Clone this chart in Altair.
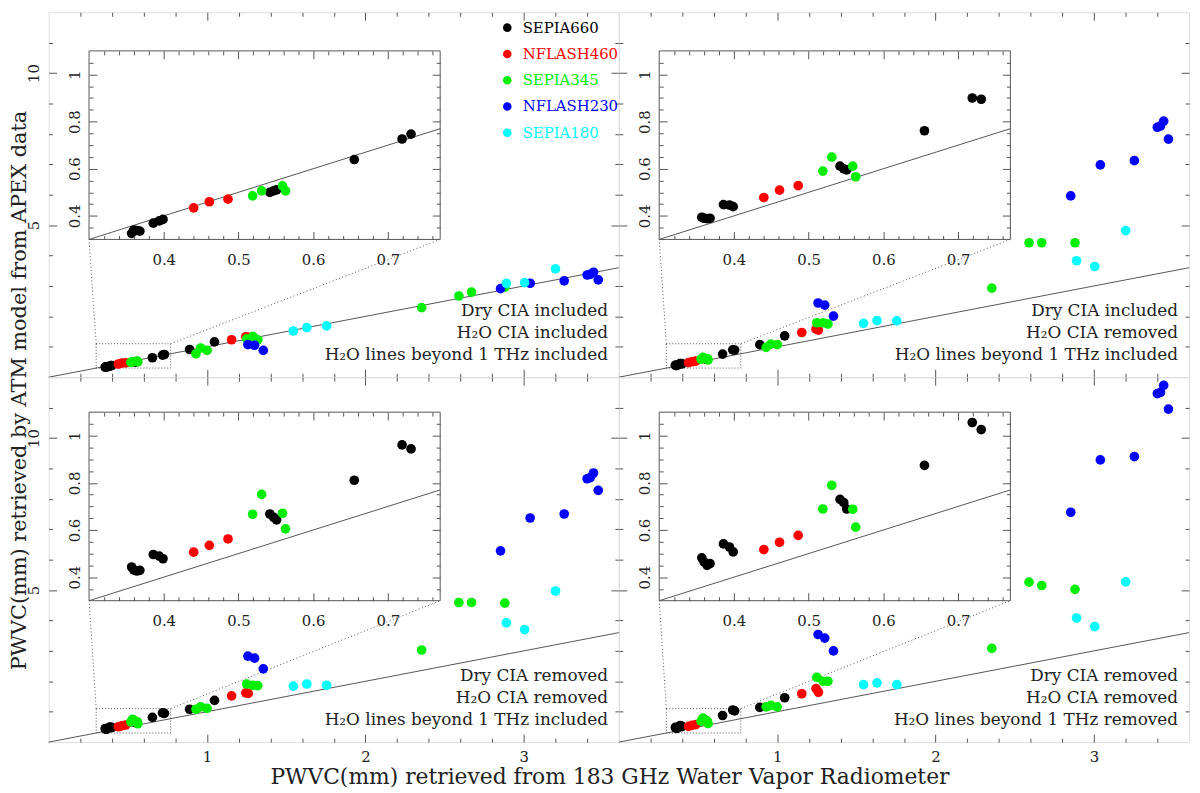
import altair as alt
import pandas as pd

# ---------------- data ----------------
INSTRUMENTS = ["SEPIA660", "NFLASH460", "SEPIA345", "NFLASH230", "SEPIA180"]
COLORS = ["#000000", "#ff0000", "#00f000", "#0000ff", "#00ffff"]

# PWVC from the 183 GHz WVR (x), per instrument
X_SEPIA660 = [0.357, 0.360, 0.364, 0.368, 0.386, 0.394, 0.399, 0.542, 0.547, 0.551, 0.655, 0.719, 0.731, 0.890, 1.047]
X_NFLASH460 = [0.440, 0.461, 0.486, 1.155, 1.245, 1.260]
X_SEPIA345 = [0.519, 0.531, 0.559, 0.563, 0.930, 0.960, 1.000, 1.250, 1.290, 1.320, 2.355, 2.590, 2.670, 2.880]
X_NFLASH230 = [1.258, 1.300, 1.355, 2.853, 3.040, 3.255, 3.400, 3.420, 3.440, 3.470]
X_SEPIA180 = [1.545, 1.630, 1.755, 2.890, 3.005, 3.200]

# PWVC retrieved by ATM (y), panel A: dry CIA incl., H2O CIA incl., lines incl.
A_SEPIA660 = [0.326, 0.340, 0.338, 0.335, 0.369, 0.379, 0.385, 0.500, 0.506, 0.510, 0.639, 0.726, 0.747, 0.91, 1.16]
A_NFLASH460 = [0.434, 0.460, 0.471, 1.23, 1.33, 1.31]
A_SEPIA345 = [0.485, 0.506, 0.527, 0.506, 0.77, 0.96, 0.88, 1.26, 1.34, 1.23, 2.29, 2.67, 2.80, 2.96]
A_NFLASH230 = [1.07, 1.05, 0.88, 2.91, 3.09, 3.17, 3.36, 3.38, 3.45, 3.20]
A_SEPIA180 = [1.52, 1.63, 1.69, 3.09, 3.11, 3.56]

# panel B: dry CIA incl., H2O CIA removed, lines incl.
B_SEPIA660 = [0.394, 0.390, 0.388, 0.390, 0.448, 0.446, 0.439, 0.611, 0.600, 0.595, 0.761, 0.900, 0.895, 1.07, 1.36]
B_NFLASH460 = [0.478, 0.509, 0.528, 1.47, 1.58, 1.55]
B_SEPIA345 = [0.590, 0.649, 0.611, 0.566, 0.98, 1.09, 1.07, 1.79, 1.79, 1.75, 2.93, 4.42, 4.42, 4.42]
B_NFLASH230 = [2.44, 2.37, 2.01, 5.96, 6.98, 7.12, 8.22, 8.26, 8.42, 7.83]
B_SEPIA180 = [1.77, 1.86, 1.85, 3.83, 3.64, 4.82]

# panel C: dry CIA removed, H2O CIA removed, lines incl.
C_SEPIA660 = [0.443, 0.430, 0.426, 0.429, 0.496, 0.489, 0.478, 0.668, 0.654, 0.643, 0.811, 0.961, 0.944, 1.08, 1.375]
C_NFLASH460 = [0.506, 0.535, 0.562, 1.52, 1.62, 1.60]
C_SEPIA345 = [0.667, 0.751, 0.671, 0.605, 1.08, 1.16, 1.11, 1.91, 1.87, 1.86, 3.03, 4.59, 4.59, 4.57]
C_NFLASH230 = [2.83, 2.76, 2.41, 6.29, 7.37, 7.50, 8.66, 8.70, 8.85, 8.28]
C_SEPIA180 = [1.84, 1.91, 1.87, 3.92, 3.70, 4.97]

# panel D: dry CIA removed, H2O CIA removed, lines removed
D_SEPIA660 = [0.482, 0.465, 0.450, 0.457, 0.541, 0.528, 0.507, 0.730, 0.716, 0.689, 0.874, 1.056, 1.026, 1.14, 1.46]
D_NFLASH460 = [0.517, 0.548, 0.577, 1.59, 1.76, 1.64]
D_SEPIA345 = [0.689, 0.790, 0.688, 0.612, 1.16, 1.21, 1.16, 2.13, 2.00, 2.00, 3.08, 5.26, 5.15, 5.02]
D_NFLASH230 = [3.54, 3.42, 3.00, 7.56, 9.28, 9.39, 11.46, 11.50, 11.73, 10.95]
D_SEPIA180 = [1.89, 1.95, 1.89, 4.08, 3.80, 5.27]

NOTES_A = ["Dry CIA included", "H\u2082O CIA included", "H\u2082O lines beyond 1 THz included"]
NOTES_B = ["Dry CIA included", "H\u2082O CIA removed", "H\u2082O lines beyond 1 THz included"]
NOTES_C = ["Dry CIA removed", "H\u2082O CIA removed", "H\u2082O lines beyond 1 THz included"]
NOTES_D = ["Dry CIA removed", "H\u2082O CIA removed", "H\u2082O lines beyond 1 THz removed"]

X_TITLE = "PWVC(mm) retrieved from 183 GHz Water Vapor Radiometer"
Y_TITLE = "PWVC(mm) retrieved by ATM model from APEX data"

# axes
MAIN_XDOM = [0, 3.6]
MAIN_YDOM = [0, 12]
MAIN_X_MAJOR = [1, 2, 3]
MAIN_X_MINOR = [0.2, 0.4, 0.6, 0.8, 1.2, 1.4, 1.6, 1.8, 2.2, 2.4, 2.6, 2.8, 3.2, 3.4]
MAIN_Y_MAJOR = [5, 10]
MAIN_Y_MINOR = [1, 2, 3, 4, 6, 7, 8, 9, 11]
INSET_XDOM = [0.3, 0.77]
INSET_YDOM = [0.3, 1.1]
INSET_X_MAJOR = [0.4, 0.5, 0.6, 0.7]
INSET_X_MINOR = [0.32, 0.34, 0.36, 0.38, 0.42, 0.44, 0.46, 0.48, 0.52, 0.54, 0.56, 0.58,
                 0.62, 0.64, 0.66, 0.68, 0.72, 0.74, 0.76]
INSET_Y_MAJOR = [0.4, 0.6, 0.8, 1.0]
INSET_Y_MINOR = [0.35, 0.45, 0.5, 0.55, 0.65, 0.7, 0.75, 0.85, 0.9, 0.95, 1.05]

# where the inset sits, in main-panel data units
INSET_X = [0.255, 2.472]
INSET_Y = {0: [4.53, 10.73], 1: [4.65, 10.85]}

# ---------------- layout / style ----------------
W, H = 575, 368
FONT = "DejaVu Serif"
TXT = "#222222"
AXC = "#555555"
LINEC = "#555555"
MAJ, MIN = 8, 4
PT_SIZE = 95

X_BY_INST = [X_SEPIA660, X_NFLASH460, X_SEPIA345, X_NFLASH230, X_SEPIA180]


def panel_frame(y_lists):
    rows = []
    for inst, xs, ys in zip(INSTRUMENTS, X_BY_INST, y_lists):
        for xv, yv in zip(xs, ys):
            rows.append({"inst": inst, "x": xv, "y": yv})
    return pd.DataFrame(rows)


label_color_expr = " : ".join(
    f"datum.label == '{n}' ? '{c}'" for n, c in zip(INSTRUMENTS, COLORS)
) + " : '#000000'"

LEGEND = alt.Legend(
    title=None, orient="none", legendX=455, legendY=8, direction="vertical",
    symbolType="circle", symbolSize=75, symbolStrokeWidth=0,
    labelFont=FONT, labelFontSize=15, labelOffset=8, rowPadding=10.5, padding=0,
    labelColor={"expr": label_color_expr},
)
COLOR_SCALE = alt.Scale(domain=INSTRUMENTS, range=COLORS)


def ax(orient, values, size, offset, labels=False, pad=0, fmt="~g", **extra):
    props = dict(orient=orient, values=values, tickSize=size, offset=offset,
                 domain=False, grid=False, ticks=True, tickColor=AXC, tickWidth=1,
                 labels=labels, zindex=1, format=fmt, title=None)
    if labels:
        props.update(labelPadding=pad, labelFont=FONT, labelFontSize=15,
                     labelColor=TXT, labelOverlap=False)
        if orient == "left":
            props.update(labelAngle=270, labelAlign="center", labelBaseline="bottom")
    props.update(extra)
    return alt.Axis(**props)


def axis_layer(xs, ys, xdom, ydom, axis, chan):
    base = alt.Chart(pd.DataFrame({"x": [xdom[0]], "y": [ydom[0]]})).mark_point(opacity=0)
    if chan == "x":
        return base.encode(x=alt.X("x:Q", scale=xs, axis=axis),
                           y=alt.Y("y:Q", scale=ys, axis=None))
    return base.encode(x=alt.X("x:Q", scale=xs, axis=None),
                       y=alt.Y("y:Q", scale=ys, axis=axis))


def make_panel(y_lists, notes, row, col):
    df = panel_frame(y_lists)
    dfi = df[(df.x >= INSET_XDOM[0]) & (df.x <= INSET_XDOM[1]) &
             (df.y >= INSET_YDOM[0]) & (df.y <= INSET_YDOM[1])]
    iyb, iyt = INSET_Y[row]
    xl = INSET_X[0] / MAIN_XDOM[1] * W
    xr = INSET_X[1] / MAIN_XDOM[1] * W
    yb = H * (1 - iyb / MAIN_YDOM[1])
    yt = H * (1 - iyt / MAIN_YDOM[1])

    xs = alt.Scale(domain=MAIN_XDOM, nice=False, zero=False)
    ys = alt.Scale(domain=MAIN_YDOM, nice=False, zero=False)
    xsi = alt.Scale(domain=INSET_XDOM, range=[xl, xr], nice=False, zero=False)
    ysi = alt.Scale(domain=INSET_YDOM, range=[yb, yt], nice=False, zero=False)
    color = alt.Color("inst:N", scale=COLOR_SCALE, legend=LEGEND)

    def X(f, s):
        return alt.X(f, scale=s, axis=None)

    def Y(f, s):
        return alt.Y(f, scale=s, axis=None)

    # ---- main layers
    diag = alt.Chart(pd.DataFrame({"x": MAIN_XDOM, "y": MAIN_XDOM})).mark_line(
        color=LINEC, strokeWidth=1).encode(x=X("x:Q", xs), y=Y("y:Q", ys))
    box = alt.Chart(pd.DataFrame({"x0": [INSET_XDOM[0]], "x1": [INSET_XDOM[1]],
                                  "y0": [INSET_YDOM[0]], "y1": [INSET_YDOM[1]]}))
    zoom_rect = box.mark_rect(fillOpacity=0, stroke=LINEC, strokeWidth=1,
                              strokeDash=[1, 2]).encode(
        x=X("x0:Q", xs), x2="x1:Q", y=Y("y0:Q", ys), y2="y1:Q")
    conn = alt.Chart(pd.DataFrame({
        "xa": [INSET_XDOM[0], INSET_XDOM[1]], "ya": [INSET_YDOM[1], INSET_YDOM[1]],
        "xb": [INSET_X[0], INSET_X[1]], "yb": [iyb, iyb]})).mark_rule(
        color=LINEC, strokeWidth=1, strokeDash=[1, 2.5]).encode(
        x=X("xa:Q", xs), y=Y("ya:Q", ys), x2="xb:Q", y2="yb:Q")
    pts = alt.Chart(df).mark_point(filled=True, size=PT_SIZE, opacity=1).encode(
        x=X("x:Q", xs), y=Y("y:Q", ys), color=color)
    note = alt.Chart(pd.DataFrame({"k": [0]})).mark_text(
        text=notes, font=FONT, fontSize=17, color=TXT, align="right",
        baseline="alphabetic", lineHeight=22.5).encode(
        x=alt.value(W - 11), y=alt.value(H - 62))

    bx_extra = {}
    ly_extra = {}
    if row == 1 and col == 0:
        bx_extra = dict(title=X_TITLE, titleFont=FONT, titleFontSize=22,
                        titleFontWeight="normal", titleColor=TXT,
                        titleX=565.5, titleY=50, titleAlign="center",
                        titleBaseline="alphabetic", titleAngle=0)
        ly_extra = dict(title=Y_TITLE, titleFont=FONT, titleFontSize=21,
                        titleFontWeight="normal", titleColor=TXT,
                        titleX=-37, titleY=13, titleAlign="center",
                        titleBaseline="middle", titleAngle=270)

    main_axes = [
        axis_layer(xs, ys, MAIN_XDOM, MAIN_YDOM,
                   ax("bottom", MAIN_X_MAJOR, MAJ, -MAJ, labels=(row == 1), pad=8, fmt="d", **bx_extra), "x"),
        axis_layer(xs, ys, MAIN_XDOM, MAIN_YDOM, ax("bottom", MAIN_X_MINOR, MIN, -MIN), "x"),
        axis_layer(xs, ys, MAIN_XDOM, MAIN_YDOM, ax("top", MAIN_X_MAJOR, MAJ, -MAJ), "x"),
        axis_layer(xs, ys, MAIN_XDOM, MAIN_YDOM, ax("top", MAIN_X_MINOR, MIN, -MIN), "x"),
        axis_layer(xs, ys, MAIN_XDOM, MAIN_YDOM,
                   ax("left", MAIN_Y_MAJOR, MAJ, -MAJ, labels=(col == 0), pad=7, fmt="d", **ly_extra), "y"),
        axis_layer(xs, ys, MAIN_XDOM, MAIN_YDOM, ax("left", MAIN_Y_MINOR, MIN, -MIN), "y"),
        axis_layer(xs, ys, MAIN_XDOM, MAIN_YDOM, ax("right", MAIN_Y_MAJOR, MAJ, -MAJ), "y"),
        axis_layer(xs, ys, MAIN_XDOM, MAIN_YDOM, ax("right", MAIN_Y_MINOR, MIN, -MIN), "y"),
    ]
    main = alt.layer(diag, zoom_rect, conn, pts, note, *main_axes).resolve_axis(
        x="independent", y="independent")

    # ---- inset layers
    frame = box.mark_rect(fill="white", stroke=AXC, strokeWidth=1).encode(
        x=X("x0:Q", xsi), x2="x1:Q", y=Y("y0:Q", ysi), y2="y1:Q")
    diag_i = alt.Chart(pd.DataFrame({"x": INSET_XDOM, "y": INSET_XDOM})).mark_line(
        color=LINEC, strokeWidth=1).encode(x=X("x:Q", xsi), y=Y("y:Q", ysi))
    pts_i = alt.Chart(dfi).mark_point(filled=True, size=PT_SIZE, opacity=1).encode(
        x=X("x:Q", xsi), y=Y("y:Q", ysi), color=color)
    inset_axes = [
        axis_layer(xsi, ysi, INSET_XDOM, INSET_YDOM,
                   ax("bottom", INSET_X_MAJOR, MAJ, yb - MAJ - H, labels=True, pad=13), "x"),
        axis_layer(xsi, ysi, INSET_XDOM, INSET_YDOM, ax("bottom", INSET_X_MINOR, MIN, yb - MIN - H), "x"),
        axis_layer(xsi, ysi, INSET_XDOM, INSET_YDOM, ax("top", INSET_X_MAJOR, MAJ, -(yt + MAJ)), "x"),
        axis_layer(xsi, ysi, INSET_XDOM, INSET_YDOM, ax("top", INSET_X_MINOR, MIN, -(yt + MIN)), "x"),
        axis_layer(xsi, ysi, INSET_XDOM, INSET_YDOM,
                   ax("left", INSET_Y_MAJOR, MAJ, -(xl + MAJ), labels=True, pad=6.5), "y"),
        axis_layer(xsi, ysi, INSET_XDOM, INSET_YDOM, ax("left", INSET_Y_MINOR, MIN, -(xl + MIN)), "y"),
        axis_layer(xsi, ysi, INSET_XDOM, INSET_YDOM, ax("right", INSET_Y_MAJOR, MAJ, xr - MAJ - W), "y"),
        axis_layer(xsi, ysi, INSET_XDOM, INSET_YDOM, ax("right", INSET_Y_MINOR, MIN, xr - MIN - W), "y"),
    ]
    inset = alt.layer(frame, diag_i, pts_i, *inset_axes).resolve_axis(
        x="independent", y="independent")

    return alt.layer(main, inset).resolve_scale(
        x="independent", y="independent").properties(width=W, height=H)


pA = make_panel([A_SEPIA660, A_NFLASH460, A_SEPIA345, A_NFLASH230, A_SEPIA180], NOTES_A, 0, 0)
pB = make_panel([B_SEPIA660, B_NFLASH460, B_SEPIA345, B_NFLASH230, B_SEPIA180], NOTES_B, 0, 1)
pC = make_panel([C_SEPIA660, C_NFLASH460, C_SEPIA345, C_NFLASH230, C_SEPIA180], NOTES_C, 1, 0)
pD = make_panel([D_SEPIA660, D_NFLASH460, D_SEPIA345, D_NFLASH230, D_SEPIA180], NOTES_D, 1, 1)

chart = alt.concat(pA, pB, pC, pD, columns=2, spacing=0, bounds="flush").properties(
    padding={"left": 0, "top": 0, "right": 0, "bottom": 0}
).configure_view(stroke=AXC, strokeWidth=1).configure(background="white")

chart.save("out.html", embed_options={"renderer": "svg", "actions": False})
